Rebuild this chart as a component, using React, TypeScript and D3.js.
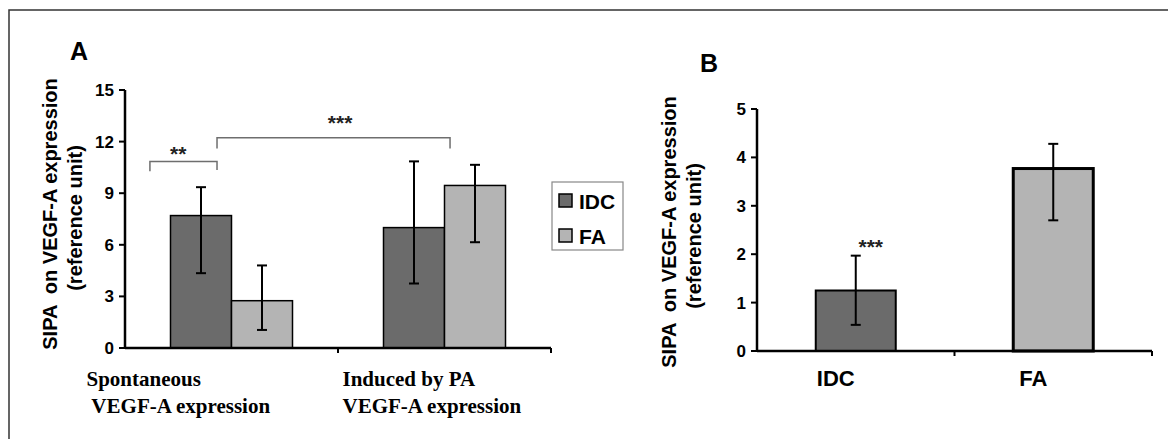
import React from 'react'
import * as d3 from 'd3'

// panel A: SIPA effect, spontaneous vs induced by PA
const categoriesA = ['Spontaneous', 'Induced']
const categoryLinesA = [
  ['Spontaneous', ' VEGF-A expression'],
  ['Induced by PA', 'VEGF-A expression'],
]
const seriesNames = ['IDC', 'FA']
const idcMeansA = [7.7, 7.0]
const idcUpperA = [9.35, 10.85]
const idcLowerA = [4.35, 3.75]
const faMeansA = [2.75, 9.45]
const faUpperA = [4.8, 10.65]
const faLowerA = [1.05, 6.15]
const yTicksA = [0, 3, 6, 9, 12, 15]

// significance brackets, x in category units (0..2)
const bracketsA = [
  { x1: 0.117, x2: 0.432, y: 10.85, leg1: 10.28, leg2: 10.35, labelX: 0.25, labelY: 11.5, label: '**' },
  { x1: 0.432, x2: 1.526, y: 12.22, leg1: 11.6, leg2: 11.6, labelX: 1.01, labelY: 13.3, label: '***' },
]

// panel B
const categoriesB = ['IDC', 'FA']
const meansB = [1.25, 3.77]
const upperB = [1.97, 4.28]
const lowerB = [0.54, 2.7]
const yTicksB = [0, 1, 2, 3, 4, 5]
const starsB = ['***', '']

const COLORS: Record<string, string> = { IDC: '#6b6b6b', FA: '#b4b4b4' }
const SANS = '"Liberation Sans", Arial, sans-serif'
const SERIF = '"Liberation Serif", "Times New Roman", serif'

const W = 1168
const H = 439

function YAxis({ y, x, ticks }: { y: d3.ScaleLinear<number, number>; x: number; ticks: number[] }) {
  const [y0, y1] = y.range()
  return (
    <g>
      <line x1={x} x2={x} y1={y0 + 1} y2={y1} stroke="#000" strokeWidth={2.5} />
      {ticks.map((t) => (
        <g key={t}>
          <line x1={x - 6} x2={x} y1={y(t)} y2={y(t)} stroke="#000" strokeWidth={2} />
          <text x={x - 11} y={y(t) + 6} textAnchor="end" fontFamily={SANS} fontWeight="bold" fontSize={17}>
            {t}
          </text>
        </g>
      ))}
    </g>
  )
}

function XAxis({ x0, y }: { x0: d3.ScaleBand<string>; y: number }) {
  const [a, b] = x0.range()
  const bounds = x0.domain().slice(1).map((d) => x0(d) as number).concat([b])
  return (
    <g>
      <line x1={a} x2={b} y1={y} y2={y} stroke="#000" strokeWidth={2.5} />
      {bounds.map((bx, i) => (
        <line key={i} x1={bx} x2={bx} y1={y} y2={y + 5} stroke="#000" strokeWidth={2} />
      ))}
    </g>
  )
}

function ErrorBar({ cx, top, bottom }: { cx: number; top: number; bottom: number }) {
  return (
    <g stroke="#000" strokeWidth={2}>
      <line x1={cx} x2={cx} y1={top} y2={bottom} />
      <line x1={cx - 5} x2={cx + 5} y1={top} y2={top} />
      <line x1={cx - 5} x2={cx + 5} y1={bottom} y2={bottom} />
    </g>
  )
}

function YLabel({ cx, cy }: { cx: number; cy: number }) {
  return (
    <g transform={`translate(${cx},${cy}) rotate(-90)`} fontFamily={SANS} fontWeight="bold" fontSize={20}>
      <text x={4} y={7} textAnchor="middle" style={{ whiteSpace: 'pre' }}>SIPA  on VEGF-A expression</text>
      <text x={0} y={32} textAnchor="middle">(reference unit)</text>
    </g>
  )
}

function PanelA() {
  const y = d3.scaleLinear().domain([0, 15]).range([348, 90])
  const x0 = d3.scaleBand<string>().domain(categoriesA).range([125, 551]).padding(0)
  const groupW = 122
  const x1 = d3.scaleBand<string>().domain(seriesNames).range([0, groupW])
  const xc = d3.scaleLinear().domain([0, 2]).range([125, 551])

  const series = [
    { name: 'IDC', means: idcMeansA, upper: idcUpperA, lower: idcLowerA },
    { name: 'FA', means: faMeansA, upper: faUpperA, lower: faLowerA },
  ]
  const labelOffsets = [-145, -102]

  return (
    <g>
      <text x={70} y={60} fontFamily={SANS} fontWeight="bold" fontSize={25}>A</text>
      <YLabel cx={50} cy={218} />
      {series.map((s) =>
        categoriesA.map((c, i) => {
          const bx = (x0(c) as number) + (x0.bandwidth() - groupW) / 2 + (x1(s.name) as number)
          return (
            <g key={s.name + c}>
              <rect x={bx} y={y(s.means[i])} width={x1.bandwidth()} height={y(0) - y(s.means[i])}
                fill={COLORS[s.name]} stroke="#000" strokeWidth={1.5} />
              <ErrorBar cx={bx + x1.bandwidth() / 2} top={y(s.upper[i])} bottom={y(s.lower[i])} />
            </g>
          )
        })
      )}
      <YAxis y={y} x={125} ticks={yTicksA} />
      <XAxis x0={x0} y={348} />
      {bracketsA.map((b) => (
        <g key={b.label}>
          <path d={`M${xc(b.x1)},${y(b.leg1)}V${y(b.y)}H${xc(b.x2)}V${y(b.leg2)}`} fill="none" stroke="#6e6e6e" strokeWidth={1.5} />
          <text x={xc(b.labelX)} y={y(b.labelY) + 11} textAnchor="middle" fontFamily={SANS} fontWeight="bold" fontSize={21} fill="#222">
            {b.label}
          </text>
        </g>
      ))}
      {categoriesA.map((c, i) => {
        const cx = (x0(c) as number) + x0.bandwidth() / 2
        return (
          <text key={c} fontFamily={SERIF} fontWeight="bold" fontSize={21} style={{ whiteSpace: 'pre' }}>
            <tspan x={cx + labelOffsets[i]} y={386}>{categoryLinesA[i][0]}</tspan>
            <tspan x={cx + labelOffsets[i]} y={413}>{categoryLinesA[i][1]}</tspan>
          </text>
        )
      })}
      {/* legend */}
      <rect x={552} y={182} width={71} height={68} fill="#fff" stroke="#888" strokeWidth={1.2} />
      {seriesNames.map((s, i) => (
        <g key={s}>
          <rect x={559} y={194 + i * 35} width={13} height={13} fill={COLORS[s]} stroke="#000" strokeWidth={1.5} />
          <text x={579} y={209 + i * 35} fontFamily={SANS} fontWeight="bold" fontSize={21}>{s}</text>
        </g>
      ))}
    </g>
  )
}

function PanelB() {
  const y = d3.scaleLinear().domain([0, 5]).range([351, 109])
  const x0 = d3.scaleBand<string>().domain(categoriesB).range([757, 1152]).padding(0)
  const barW = 80
  return (
    <g>
      <text x={700} y={72} fontFamily={SANS} fontWeight="bold" fontSize={25}>B</text>
      <YLabel cx={669} cy={236} />
      {categoriesB.map((c, i) => {
        const cx = (x0(c) as number) + x0.bandwidth() / 2
        return (
          <g key={c}>
            <rect x={cx - barW / 2} y={y(meansB[i])} width={barW} height={y(0) - y(meansB[i])}
              fill={COLORS[c]} stroke="#000" strokeWidth={i === 0 ? 2 : 3} />
            <ErrorBar cx={cx} top={y(upperB[i])} bottom={y(lowerB[i])} />
            {starsB[i] && (
              <text x={cx + 15} y={y(upperB[i]) - 2} textAnchor="middle" fontFamily={SANS} fontWeight="bold" fontSize={21} fill="#222">
                {starsB[i]}
              </text>
            )}
            <text x={cx - 20} y={386} textAnchor="middle" fontFamily={SANS} fontWeight="bold" fontSize={22}>{c}</text>
          </g>
        )
      })}
      <YAxis y={y} x={757} ticks={yTicksB} />
      <XAxis x0={x0} y={351} />
    </g>
  )
}

export default function App() {
  return (
    <svg width={W} height={H} viewBox={`0 0 ${W} ${H}`} style={{ position: 'absolute', left: 0, top: 0, background: '#fff' }}>
      <rect x={0} y={0} width={W} height={H} fill="#fff" />
      <rect x={9} y={10} width={W + 20} height={H + 20} fill="none" stroke="#333" strokeWidth={1.5} />
      <PanelA />
      <PanelB />
    </svg>
  )
}
